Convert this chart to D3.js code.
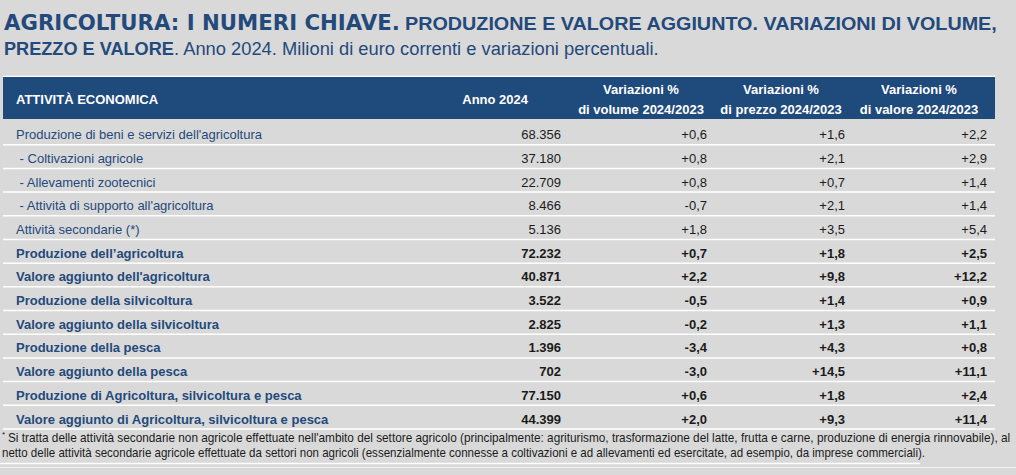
<!DOCTYPE html>
<html lang="it">
<head>
<meta charset="utf-8">
<script src="https://cdn.jsdelivr.net/npm/d3@7"></script>
<style>
  html, body { margin: 0; padding: 0; background: #d9d9d9; }
  svg { display: block; }
  text { white-space: pre; }
</style>
</head>
<body>
<div id="chart"></div>
<script>
// Table values (milioni di euro correnti, variazioni %)
const rowLabels = [
  "Produzione di beni e servizi dell'agricoltura",
  " - Coltivazioni agricole",
  " - Allevamenti zootecnici",
  " - Attività di supporto all'agricoltura",
  "Attività secondarie (*)",
  "Produzione dell\u2019agricoltura",
  "Valore aggiunto dell'agricoltura",
  "Produzione della silvicoltura",
  "Valore aggiunto della silvicoltura",
  "Produzione della pesca",
  "Valore aggiunto della pesca",
  "Produzione di Agricoltura, silvicoltura e pesca",
  "Valore aggiunto di Agricoltura, silvicoltura e pesca"
];
const boldRows = [false, false, false, false, false, true, true, true, true, true, true, true, true];
const anno2024 = [68356, 37180, 22709, 8466, 5136, 72232, 40871, 3522, 2825, 1396, 702, 77150, 44399];
const varVolume = [0.6, 0.8, 0.8, -0.7, 1.8, 0.7, 2.2, -0.5, -0.2, -3.4, -3.0, 0.6, 2.0];
const varPrezzo = [1.6, 2.1, 0.7, 2.1, 3.5, 1.8, 9.8, 1.4, 1.3, 4.3, 14.5, 1.8, 9.3];
const varValore = [2.2, 2.9, 1.4, 1.4, 5.4, 2.5, 12.2, 0.9, 1.1, 0.8, 11.1, 2.4, 11.4];
const columnHeaders = [
  ["Anno 2024"],
  ["Variazioni %", "di volume 2024/2023"],
  ["Variazioni %", "di prezzo 2024/2023"],
  ["Variazioni %", "di valore 2024/2023"]
];
const firstHeader = "ATTIVITÀ ECONOMICA";
const footnoteLines = [
  "Si tratta delle attività secondarie non agricole effettuate nell'ambito del settore agricolo (principalmente: agriturismo, trasformazione del latte, frutta e carne, produzione di energia rinnovabile), al",
  "netto delle attività secondarie agricole effettuate da settori non agricoli (essenzialmente connesse a coltivazioni e ad allevamenti ed esercitate, ad esempio, da imprese commerciali)."
];

const width = 1016, height = 475;
const blue = '#24497b', band = '#1f4a7c', ink = '#1b1b1b';
const sans = '"Liberation Sans", Arial, sans-serif';
const narrow = '"Liberation Sans Narrow", "Arial Narrow", "Liberation Sans", Arial, sans-serif';

const it = d3.formatLocale({ decimal: ',', thousands: '.', grouping: [3], currency: ['', ' €'], minus: '-' });
const fmtInt = it.format(',d');
const fmtPct = it.format('+.1f');

const svg = d3.select('#chart').append('svg')
  .attr('width', width)
  .attr('height', height);

svg.append('rect').attr('width', width).attr('height', height).attr('fill', '#d9d9d9');

// squeeze a text horizontally so it fills the given width (narrow fonts are not installed)
function squeezed(parent, str, x, y, w) {
  const g = parent.append('g');
  const t = g.append('text').text(str);
  const k = w / t.node().getComputedTextLength();
  g.attr('transform', `translate(${x},${y}) scale(${k},1)`);
  return t;
}

// Title
const title = svg.append('g').attr('fill', blue);
const t1 = title.append('g')
  .style('font-family', '"DejaVu Sans", Verdana, sans-serif')
  .style('font-weight', 'bold').style('font-size', '22px');
squeezed(t1, 'AGRICOLTURA: I NUMERI CHIAVE.', 4, 30, 396);
const t2 = title.append('g')
  .style('font-family', narrow).style('font-weight', 'bold').style('font-size', '19px');
squeezed(t2, 'PRODUZIONE E VALORE AGGIUNTO. VARIAZIONI DI VOLUME,', 405, 30, 592);
squeezed(t2, 'PREZZO E VALORE', 4, 55, 170);
const t3 = title.append('g')
  .style('font-family', narrow).style('font-size', '19px');
squeezed(t3, '. Anno 2024. Milioni di euro correnti e variazioni percentuali.', 174, 55, 485);

// Layout of the table
const tableLeft = 3, tableRight = 995;
const headTop = 77, headBottom = 119;
const y = d3.scaleBand()
  .domain(d3.range(rowLabels.length))
  .range([121, 429]);

const valueRight = [561, 707, 845, 987];
const headerPos = [{ x: 528, anchor: 'end' }, { x: 641, anchor: 'middle' }, { x: 781, anchor: 'middle' }, { x: 919, anchor: 'middle' }];

// Header band
svg.append('line')
  .attr('x1', tableLeft).attr('x2', tableRight)
  .attr('y1', headTop - 0.5).attr('y2', headTop - 0.5)
  .attr('stroke', '#ffffff').attr('stroke-width', 1.5);
svg.append('rect')
  .attr('x', tableLeft).attr('y', headTop)
  .attr('width', tableRight - tableLeft).attr('height', headBottom - headTop)
  .attr('fill', band);

const head = svg.append('g')
  .attr('fill', '#ffffff')
  .style('font-family', sans).style('font-weight', 'bold').style('font-size', '13px');
head.append('text').attr('x', 16).attr('y', 104).text(firstHeader);
columnHeaders.forEach((lines, i) => {
  head.append('g').selectAll('text')
    .data(lines)
    .join('text')
    .attr('x', headerPos[i].x)
    .attr('y', (d, j) => lines.length === 1 ? 104 : 94 + j * 20)
    .attr('text-anchor', headerPos[i].anchor)
    .text(d => d);
});

// Row separators
svg.append('g').selectAll('line')
  .data(d3.range(rowLabels.length))
  .join('line')
  .attr('x1', tableLeft).attr('x2', tableRight)
  .attr('y1', d => y(d) + y.bandwidth())
  .attr('y2', d => y(d) + y.bandwidth())
  .attr('stroke', '#ffffff').attr('stroke-width', 1.5);

// Rows
const rows = svg.append('g').selectAll('g')
  .data(d3.range(rowLabels.length))
  .join('g')
  .attr('transform', d => `translate(0,${y(d) + y.bandwidth() - 5.5})`)
  .style('font-family', sans).style('font-size', '13px')
  .style('font-weight', d => boldRows[d] ? 'bold' : 'normal');

rows.append('text')
  .attr('x', 16)
  .attr('fill', blue)
  .text(d => rowLabels[d]);

const columns = [
  d => fmtInt(anno2024[d]),
  d => fmtPct(varVolume[d]),
  d => fmtPct(varPrezzo[d]),
  d => fmtPct(varValore[d])
];
columns.forEach((fn, i) => {
  rows.append('text')
    .attr('x', valueRight[i])
    .attr('text-anchor', 'end')
    .attr('fill', ink)
    .text(fn);
});

// Footnote
const foot = svg.append('g')
  .attr('fill', ink)
  .style('font-family', narrow).style('font-size', '12.5px');
foot.append('text')
  .attr('x', 2).attr('y', 437)
  .style('font-size', '8px')
  .text('*');
squeezed(foot, footnoteLines[0], 8, 442, 1003);
squeezed(foot, footnoteLines[1], 2, 457, 924);

svg.append('line')
  .attr('x1', 0).attr('x2', 920).attr('y1', 463.5).attr('y2', 463.5)
  .attr('stroke', '#ffffff').attr('stroke-width', 1.5);
svg.append('line')
  .attr('x1', 0).attr('x2', width).attr('y1', 467.5).attr('y2', 467.5)
  .attr('stroke', '#f2f2f2').attr('stroke-width', 1);
</script>
</body>
</html>
